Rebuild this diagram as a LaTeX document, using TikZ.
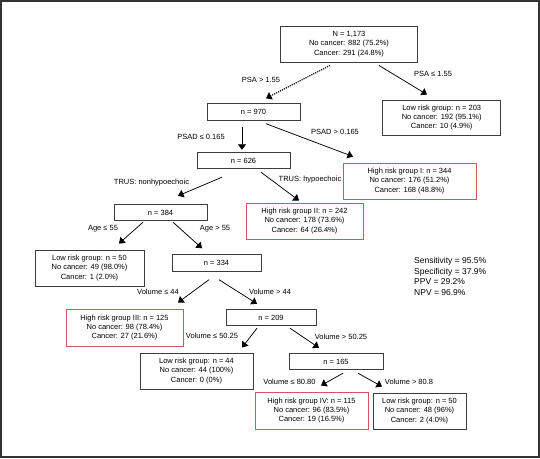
\documentclass[tikz,border=0pt]{standalone}
\usepackage{fontspec}
\setmainfont{Liberation Sans}
\usepackage{tikz}
\usetikzlibrary{arrows.meta,shapes,calc}
\usetikzlibrary{positioning}
\definecolor{riskred}{RGB}{208,88,92}
\definecolor{boxgray}{RGB}{60,60,60}
\tikzset{
    %Define standard arrow tip
    >={Triangle[length=5.5pt,width=8pt]},
    % Define box styles
    grp/.style={
           draw=boxgray,
           line width=0.9pt,
           align=center,
           inner sep=0pt,
           font=\fontsize{7.5}{9.3}\selectfont,
           },
    grplo/.style={
           grp,
           minimum height=36pt,
           },
    grphi/.style={
           grp,
           draw=riskred,
           minimum height=36pt,
           },
    split/.style={
           grp,
           minimum height=16.5pt,
           },
    % Define arrow style
    pil/.style={
           ->,
           line width=0.75pt,
           black,
           },
    pildot/.style={
           pil,
           dash pattern=on 1.2pt off 1pt,
           line width=1.1pt,
           },
    cond/.style={
           font=\fontsize{7.5}{9}\selectfont,
           inner sep=0pt,
           }
}
\begin{document}
\begin{tikzpicture}[x=1pt,y=-1pt]
  	\useasboundingbox (0,0) rectangle (540,458);
  	\draw[line width=2pt,black!80] (1,1) rectangle (538.7,456.7);
  	\node (a) at (349,44) [grplo,minimum width=137pt] {N = 1,173\\No cancer: 882 (75.2\%)\\Cancer: 291 (24.8\%)};
  	\node (b) at (253.5,112) [split,minimum width=93pt] {n = 970};
  	\node (c) at (441.7,117.5) [grplo,minimum width=118pt,minimum height=35pt] {Low risk group: n = 203\\No cancer: 192 (95.1\%)\\Cancer: 10 (4.9\%)};
  	\node (d) at (243.5,160.5) [split,minimum width=93pt] {n = 626};
  	\node (e) at (409.5,181) [grphi,minimum width=133pt] {High risk group I: n = 344\\No cancer: 176 (51.2\%)\\Cancer: 168 (48.8\%)};
  	\node (f) at (160.5,212.5) [split,minimum width=93pt] {n = 384};
  	\node (g) at (304.5,221) [grphi,minimum width=117pt] {High risk group II: n = 242\\No cancer: 178 (73.6\%)\\Cancer: 64 (26.4\%)};
  	\node (h) at (89.5,268) [grplo,minimum width=109pt] {Low risk group: n = 50\\No cancer: 49 (98.0\%)\\Cancer: 1 (2.0\%)};
  	\node (i) at (216.5,263) [split,minimum width=89pt] {n = 334};
  	\node (j) at (124.5,327.5) [grphi,minimum width=117pt,minimum height=37pt] {High risk group III: n = 125\\No cancer: 98 (78.4\%)\\Cancer: 27 (21.6\%)};
  	\node (k) at (271,317.5) [split,minimum width=90pt] {n = 209};
  	\node (l) at (196.5,371) [grplo,minimum width=113pt] {Low risk group: n = 44\\No cancer: 44 (100\%)\\Cancer: 0 (0\%)};
  	\node (m) at (336,361.5) [split,minimum width=94pt] {n = 165};
  	\node (n) at (311.5,410.5) [grphi,minimum width=113pt,minimum height=37pt] {High risk group IV: n = 115\\No cancer: 96 (83.5\%)\\Cancer: 19 (16.5\%)};
  	\node (o) at (419.5,411) [grplo,minimum width=93pt] {Low risk group: n = 50\\No cancer: 48 (96\%)\\Cancer: 2 (4.0\%)};
  	\node (s) at (414,276.5) [anchor=west,align=left,inner sep=0pt,font=\fontsize{8.5}{10.5}\selectfont] {Sensitivity = 95.5\%\\Specificity = 37.9\%\\PPV = 29.2\%\\NPV = 96.9\%};
  	% split conditions
  	\node (ca) at (261,80) [cond] {PSA > 1.55};
  	\node (cb) at (433,74) [cond] {PSA ≤ 1.55};
  	\node (cc) at (201,137) [cond] {PSAD ≤ 0.165};
  	\node (cd) at (335,132) [cond] {PSAD > 0.165};
  	\node (ce) at (151.5,183) [cond] {TRUS: nonhypoechoic};
  	\node (cf) at (310,180) [cond] {TRUS: hypoechoic};
  	\node (cg) at (103,229) [cond] {Age ≤ 55};
  	\node (ch) at (215,229) [cond] {Age > 55};
  	\node (ci) at (158,292) [cond] {Volume ≤ 44};
  	\node (cj) at (270,292) [cond] {Volume > 44};
  	\node (ck) at (212,336) [cond] {Volume ≤ 50.25};
  	\node (cl) at (341,337) [cond] {Volume > 50.25};
  	\node (cm) at (289.5,382) [cond] {Volume ≤ 80.80};
  	\node (cn) at (409,382) [cond] {Volume > 80.8};
  	\draw [pildot] ([xshift=-19pt,yshift=-3pt]a.south) -- ([xshift=12.5pt,yshift=5pt]b.north);
  	\draw [pil] ([xshift=30pt,yshift=-3pt]a.south) -- ([xshift=-14.7pt,yshift=5pt]c.north);
  	\draw [pil] ([xshift=-11.5pt,yshift=-6pt]b.south) -- ([xshift=-11.5pt,yshift=2pt]d.north -| b.south);
  	\draw [pil] ([xshift=12.5pt,yshift=-3pt]b.south) -- ([xshift=-56.5pt,yshift=6pt]e.north);
  	\draw [pil] ([xshift=-21.5pt,yshift=-8pt]d.south) -- ([xshift=17.5pt,yshift=8pt]f.north);
  	\draw [pil] ([xshift=17.5pt,yshift=-3pt]d.south) -- ([xshift=-5.5pt,yshift=2pt]g.north);
  	\draw [pil] ([xshift=-17.5pt,yshift=-1pt]f.south) -- ([xshift=29.5pt,yshift=6pt]h.north);
  	\draw [pil] ([xshift=12.5pt,yshift=-1pt]f.south) -- ([xshift=-14.5pt,yshift=6pt]i.north);
  	\draw [pil] ([xshift=-7.5pt,yshift=-8pt]i.south) -- ([xshift=53.5pt,yshift=6pt]j.north);
  	\draw [pil] ([xshift=2.5pt,yshift=-8pt]i.south) -- ([xshift=-14pt,yshift=5pt]k.north);
  	\draw [pil] ([xshift=-14pt,yshift=-2pt]k.south) -- ([xshift=45.5pt,yshift=5pt]l.north);
  	\draw [pil] ([xshift=19pt,yshift=-2pt]k.south) -- ([xshift=-17pt,yshift=5pt]m.north);
  	\draw [pil] ([xshift=7pt,yshift=-3pt]m.south) -- ([xshift=9.5pt,yshift=6pt]n.north);
  	\draw [pil] ([xshift=22pt,yshift=-3pt]m.south) -- ([xshift=-37.5pt,yshift=6pt]o.north);
\end{tikzpicture}
\end{document}
